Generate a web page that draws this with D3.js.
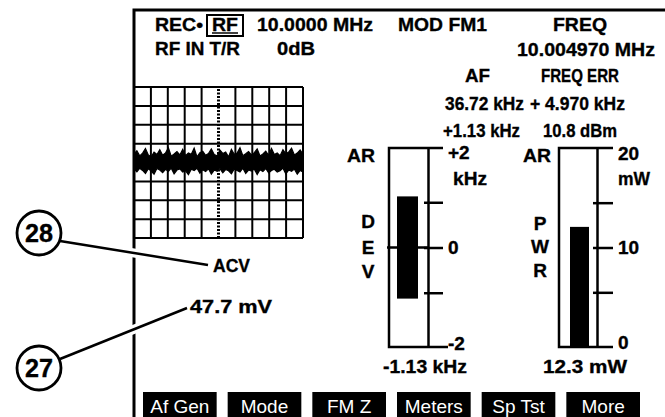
<!DOCTYPE html>
<html><head><meta charset="utf-8">
<script src="https://cdn.jsdelivr.net/npm/d3@7"></script>
<style>
body{margin:0;background:#fff;}
text{font-family:"Liberation Sans",Arial,Helvetica,sans-serif;fill:#000;}
.b{font-weight:bold;stroke:#000;stroke-width:0.35px;}
</style>
</head><body>
<svg id="chart" width="665" height="417"></svg>
<script>
// ---------- data ----------
const headerRow1 = ["REC•", "RF", "10.0000 MHz", "MOD FM1", "FREQ"];
const headerRow2 = ["RF IN T/R", "0dB", "10.004970 MHz"];
const afLabels = ["AF", "36.72 kHz", "+1.13 kHz"];
const freqErrLabels = ["FREQ ERR", "+ 4.970 kHz", "10.8 dBm"];

// oscilloscope grid divisions
const gridCols = [0,1,2,3,4,5,6,7,8,9,10];
const gridRows = [-4,-3,-2,-1,0,1,2,3,4];
// noise trace envelope (divisions from centre line)
const traceTop = [0.45,0.62,0.35,0.5,0.74,0.4,0.3,0.55,0.42,0.68,0.38,0.5,0.78,0.33,0.45,0.58,0.4,0.7,0.36,0.5,
  0.44,0.76,0.3,0.52,0.6,0.38,0.47,0.72,0.42,0.35,0.66,0.48,0.55,0.3,0.7,0.44,0.5,0.78,0.36,0.46,
  0.58,0.4,0.52,0.72,0.34,0.45,0.6,0.38,0.74,0.42,0.5,0.36,0.68,0.46,0.55,0.76,0.4,0.5,0.66,0.44];
const traceBottom = [-0.35,-0.5,-0.3,-0.42,-0.58,-0.33,-0.45,-0.62,-0.32,-0.4,-0.54,-0.36,-0.47,-0.3,-0.6,-0.4,-0.34,-0.5,-0.44,-0.64,
  -0.35,-0.42,-0.3,-0.57,-0.38,-0.48,-0.33,-0.62,-0.4,-0.46,-0.32,-0.54,-0.37,-0.44,-0.6,-0.34,-0.42,-0.5,-0.3,-0.58,
  -0.4,-0.45,-0.35,-0.64,-0.38,-0.48,-0.32,-0.55,-0.42,-0.36,-0.5,-0.44,-0.3,-0.6,-0.4,-0.47,-0.35,-0.62,-0.42,-0.5];

// deviation meter (kHz)
const devTicks = [-2,-1,0,1,2];
const devTickLabels = ["-2","","0","","+2"];
const devBar = [-1.13, 1.13];
const devUnit = "kHz";
const devName = ["D","E","V"];
const devReading = "-1.13 kHz";

// power meter (mW)
const pwrTicks = [0,5,10,15,20];
const pwrTickLabels = ["0","","10","","20"];
const pwrBar = 12.3;
const pwrUnit = "mW";
const pwrName = ["P","W","R"];
const pwrReading = "12.3 mW";

const softKeys = ["Af Gen","Mode","FM Z","Meters","Sp Tst","More"];
const calloutNumbers = ["28","27"];
const calloutLabels = ["ACV","47.7 mV"];

// ---------- drawing ----------
const svg = d3.select("#chart");
const FS = 19;

// screen frame
svg.append("path").attr("d","M665,10 H134 V417").attr("fill","none").attr("stroke","#000").attr("stroke-width",3);

// text helper: left edge x, baseline y, fitted width w
function txt(x,y,s,w,size){
  const t = svg.append("text").attr("x",x).attr("y",y).attr("font-size",size||FS).attr("class","b").text(s);
  if(w){ t.attr("textLength",w).attr("lengthAdjust","spacingAndGlyphs"); }
  return t;
}
txt(155,31,headerRow1[0],48);
svg.append("rect").attr("x",207).attr("y",15).attr("width",36).attr("height",21)
  .attr("fill","none").attr("stroke","#000").attr("stroke-width",2);
txt(212,31,headerRow1[1],26);
svg.append("line").attr("x1",212).attr("x2",238).attr("y1",33).attr("y2",33).attr("stroke","#000").attr("stroke-width",1.5);
txt(257,31,headerRow1[2],116);
txt(398,31,headerRow1[3],89);
txt(553,31,headerRow1[4],54);
txt(155,55,headerRow2[0],85);
txt(277,55,headerRow2[1],38);
txt(517,56,headerRow2[2],138);
const afPos = [[465,82,25],[445,110,79],[443,137,77]];
const fePos = [[541,82,78],[530,110,95],[543,137,74]];
afLabels.forEach((s,i)=>txt(afPos[i][0],afPos[i][1],s,afPos[i][2]));
freqErrLabels.forEach((s,i)=>txt(fePos[i][0],fePos[i][1],s,fePos[i][2]));

// oscilloscope grid
const gx = d3.scaleLinear().domain([0,10]).range([134,303]);
const gy = d3.scaleLinear().domain([-4,4]).range([238,87]);
const grid = svg.append("g");
grid.selectAll("line.v").data(gridCols).join("line")
  .attr("x1",d=>gx(d)).attr("x2",d=>gx(d)).attr("y1",gy(-4)).attr("y2",gy(4))
  .attr("stroke","#000").attr("stroke-width",d=>d===5?3:2)
  .attr("stroke-dasharray",d=>d===5?"2,1.5":null);
grid.selectAll("line.h").data(gridRows).join("line")
  .attr("x1",gx(0)).attr("x2",gx(10)).attr("y1",d=>gy(d)).attr("y2",d=>gy(d))
  .attr("stroke","#000").attr("stroke-width",2);
const tx = d3.scaleLinear().domain([0,traceTop.length-1]).range([gx(0),gx(10)]);
const area = d3.area().x((d,i)=>tx(i)).y0((d,i)=>gy(traceBottom[i])).y1(d=>gy(d));
grid.append("path").datum(traceTop).attr("d",area).attr("fill","#000").attr("stroke","#000").attr("stroke-width",1.2);

// meters
function meter(opt){
  const y = d3.scaleLinear().domain(opt.domain).range([347,148]);
  const g = svg.append("g");
  const L = opt.left, S = opt.scaleX;
  if(opt.zeroLong){
    g.append("line").attr("x1",L-2).attr("x2",S).attr("y1",y(0)).attr("y2",y(0)).attr("stroke","#000").attr("stroke-width",2.5);
  }
  g.append("rect").attr("x",opt.barX).attr("width",opt.barW)
    .attr("y",y(opt.bar[1])).attr("height",y(opt.bar[0])-y(opt.bar[1])).attr("fill","#000");
  g.append("path").attr("d",`M${opt.topEnd},${y.range()[1]} H${L} V${y.range()[0]} H${opt.botEnd}`)
    .attr("fill","none").attr("stroke","#000").attr("stroke-width",2.5);
  const ax = g.append("g").attr("transform",`translate(${S},0)`)
    .call(d3.axisRight(y).tickValues(opt.ticks).tickSizeInner(opt.tick).tickSizeOuter(0).tickPadding(5)
      .tickFormat((d,i)=>opt.labels[i]));
  ax.attr("font-family",null).attr("font-size",null);
  ax.select(".domain").attr("stroke","#000").attr("stroke-width",2.5);
  ax.selectAll(".tick line").attr("x1",-4).attr("stroke","#000").attr("stroke-width",2.5)
    .filter(d=>d===opt.ticks[0]||d===opt.ticks[4]).remove();
  ax.selectAll(".tick text").attr("font-size",FS).attr("class","b").attr("fill","#000")
    .attr("dy",(d,i)=> i===0 ? "0.6em" : (i===4 ? "0.1em" : "0.34em"));
  txt(opt.unitX,185,opt.unit,opt.unitW);
  txt(opt.arX,162,"AR",28);
  opt.name.forEach((c,i)=>txt(opt.nameX,opt.nameY[i],c).attr("text-anchor","middle"));
  txt(opt.readX,373,opt.reading,84);
}
meter({domain:[-2.2,2.2], left:389, scaleX:428, topEnd:443, botEnd:448, ticks:devTicks, labels:devTickLabels,
  tick:15, bar:devBar, barX:397, barW:21, zeroLong:true, unit:devUnit, unitX:453, unitW:34, arX:347,
  name:devName, nameX:368, nameY:[228,254,278], reading:devReading, readX:383});
meter({domain:[-1.1,21.1], left:559, scaleX:597, topEnd:613, botEnd:613, ticks:pwrTicks, labels:pwrTickLabels,
  tick:16, bar:[-1.1,pwrBar], barX:570, barW:19, zeroLong:false, unit:pwrUnit, unitX:618, unitW:32, arX:523,
  name:pwrName, nameX:540, nameY:[230,253,277], reading:pwrReading, readX:543});

// callouts
const co = [
  {cx:39, cy:233, lx1:60, ly1:241, lx2:208, ly2:265, tx:213, ty:272, tw:37},
  {cx:39, cy:368, lx1:60, ly1:359, lx2:187, ly2:308, tx:190, ty:313, tw:82}
];
calloutNumbers.forEach((num,i)=>{
  const p = co[i];
  svg.append("line").attr("x1",p.lx1).attr("y1",p.ly1).attr("x2",p.lx2).attr("y2",p.ly2)
    .attr("stroke","#fff").attr("stroke-width",9);
  svg.append("line").attr("x1",p.lx1).attr("y1",p.ly1).attr("x2",p.lx2).attr("y2",p.ly2)
    .attr("stroke","#000").attr("stroke-width",2.5);
  svg.append("circle").attr("cx",p.cx).attr("cy",p.cy).attr("r",22).attr("fill","#fff")
    .attr("stroke","#000").attr("stroke-width",2.8);
  svg.append("text").attr("class","b").attr("font-size",25).attr("x",p.cx).attr("y",p.cy+9)
    .attr("text-anchor","middle").attr("textLength",28).attr("lengthAdjust","spacingAndGlyphs").text(num);
  txt(p.tx,p.ty,calloutLabels[i],p.tw);
});

// soft keys
const bx = d3.scaleBand().domain(softKeys).range([143,640]).paddingInner(0.13);
const keys = svg.append("g").selectAll("g").data(softKeys).join("g");
keys.append("rect").attr("x",d=>bx(d)).attr("y",392).attr("width",bx.bandwidth()).attr("height",30).attr("fill","#000");
keys.append("text").attr("x",d=>bx(d)+bx.bandwidth()/2).attr("y",413).attr("text-anchor","middle")
  .attr("font-size",19).style("fill","#fff").text(d=>d);
</script>
</body></html>
